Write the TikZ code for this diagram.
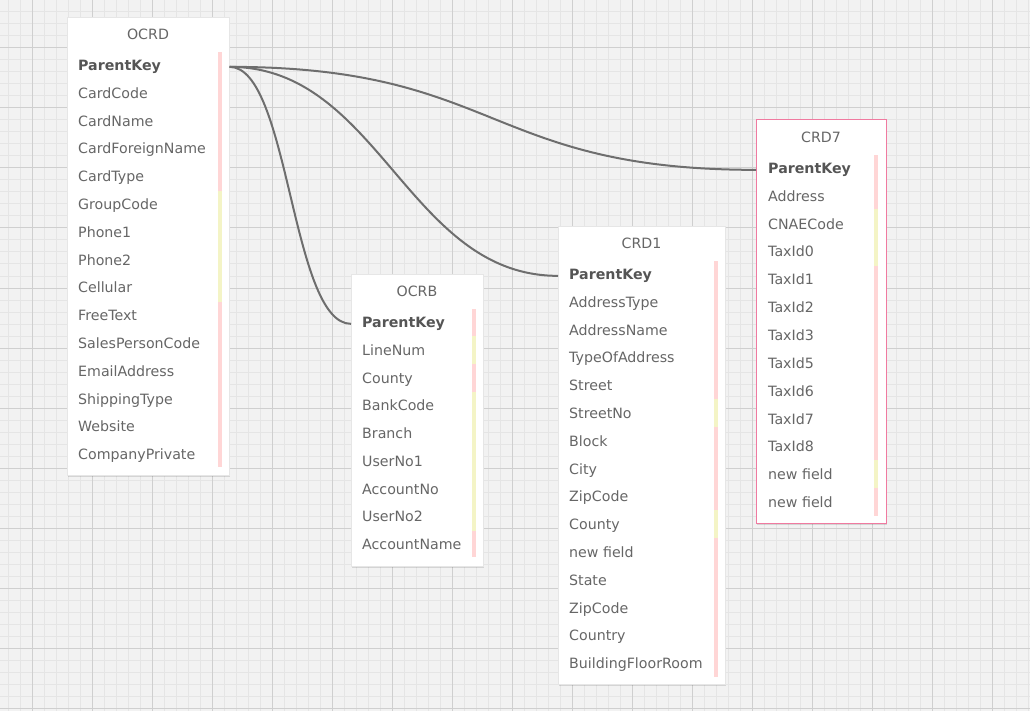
\documentclass[tikz,border=0pt]{standalone}
\usepackage{fontspec}
\setmainfont{DejaVu Sans}
\usetikzlibrary{shadows}
\definecolor{paper}{HTML}{F2F2F2}
\definecolor{gridminor}{HTML}{E5E5E5}
\definecolor{gridmajor}{HTML}{CFCFCF}
\definecolor{fieldtext}{HTML}{666666}
\definecolor{keytext}{HTML}{555555}
\definecolor{pinkbar}{HTML}{FFD6D6}
\definecolor{yellowbar}{HTML}{F4F4C6}
\definecolor{boxedge}{HTML}{E6E6E6}
\definecolor{selected}{HTML}{F07AA0}
\definecolor{link}{HTML}{6E6E6E}
\tikzset{
  tablebox/.style={draw=boxedge, line width=0.6pt, fill=white, rectangle, inner sep=0pt, anchor=north west,
    drop shadow={shadow xshift=0.8pt, shadow yshift=-1.2pt, opacity=0.12, fill=black}},
  tabletitle/.style={anchor=base, inner sep=0pt, text=fieldtext, font=\fontsize{14.2}{17}\selectfont},
  field/.style={anchor=base west, inner sep=0pt, text=fieldtext, font=\fontsize{14.2}{17}\selectfont},
  keyfield/.style={field, text=keytext, font=\fontsize{14.2}{17}\selectfont\bfseries},
  relation/.style={draw=link, line width=2pt}
}
\begin{document}
\begin{tikzpicture}[x=1pt,y=-1pt]
    \useasboundingbox (0,0) rectangle (1030,711);
    \fill[paper] (0,0) rectangle (1030,711);
    \foreach \x in {8,20,...,1028} \draw[gridminor, line width=1pt] (\x,0)--(\x,711);
    \foreach \y in {0,12,...,708} \draw[gridminor, line width=1pt] (0,\y)--(1030,\y);
    \foreach \x in {32,92,...,992} \draw[gridmajor, line width=1pt] (\x,0)--(\x,711);
    \foreach \y in {48,108,...,708} \draw[gridmajor, line width=1pt] (0,\y)--(1030,\y);

    % OCRD
    \node[tablebox, minimum width=162pt, minimum height=458pt] (ocrd) at (67,17) {};
    \node[tabletitle] (ocrdtitle) at (148,39.5) {OCRD};
    \fill[pinkbar] (218,52) rectangle (222,191);
    \fill[yellowbar] (218,191) rectangle (222,302);
    \fill[pinkbar] (218,302) rectangle (222,467);
    \node[keyfield] (ocrd0) at (78,70.5) {ParentKey};
    \node[field] (ocrd1) at (78,98.3) {CardCode};
    \node[field] (ocrd2) at (78,126.1) {CardName};
    \node[field] (ocrd3) at (78,153.9) {CardForeignName};
    \node[field] (ocrd4) at (78,181.7) {CardType};
    \node[field] (ocrd5) at (78,209.5) {GroupCode};
    \node[field] (ocrd6) at (78,237.3) {Phone1};
    \node[field] (ocrd7) at (78,265.1) {Phone2};
    \node[field] (ocrd8) at (78,292.9) {Cellular};
    \node[field] (ocrd9) at (78,320.7) {FreeText};
    \node[field] (ocrd10) at (78,348.5) {SalesPersonCode};
    \node[field] (ocrd11) at (78,376.3) {EmailAddress};
    \node[field] (ocrd12) at (78,404.1) {ShippingType};
    \node[field] (ocrd13) at (78,431.9) {Website};
    \node[field] (ocrd14) at (78,459.7) {CompanyPrivate};

    % OCRB
    \node[tablebox, minimum width=132pt, minimum height=292pt] (ocrb) at (351,274) {};
    \node[tabletitle] (ocrbtitle) at (417,296.5) {OCRB};
    \fill[pinkbar] (472,309) rectangle (476,336);
    \fill[yellowbar] (472,336) rectangle (476,364);
    \fill[pinkbar] (472,364) rectangle (476,392);
    \fill[yellowbar] (472,392) rectangle (476,531);
    \fill[pinkbar] (472,531) rectangle (476,557);
    \node[keyfield] (ocrb0) at (362,327.5) {ParentKey};
    \node[field] (ocrb1) at (362,355.25) {LineNum};
    \node[field] (ocrb2) at (362,383) {County};
    \node[field] (ocrb3) at (362,410.75) {BankCode};
    \node[field] (ocrb4) at (362,438.5) {Branch};
    \node[field] (ocrb5) at (362,466.25) {UserNo1};
    \node[field] (ocrb6) at (362,494) {AccountNo};
    \node[field] (ocrb7) at (362,521.75) {UserNo2};
    \node[field] (ocrb8) at (362,549.5) {AccountName};

    % CRD1
    \node[tablebox, minimum width=167pt, minimum height=458pt] (crd1) at (558,226) {};
    \node[tabletitle] (crd1title) at (641.5,248.5) {CRD1};
    \fill[pinkbar] (714,261) rectangle (718,399);
    \fill[yellowbar] (714,399) rectangle (718,427);
    \fill[pinkbar] (714,427) rectangle (718,510);
    \fill[yellowbar] (714,510) rectangle (718,538);
    \fill[pinkbar] (714,538) rectangle (718,677);
    \node[keyfield] (crd10) at (569,279.5) {ParentKey};
    \node[field] (crd11) at (569,307.3) {AddressType};
    \node[field] (crd12) at (569,335.1) {AddressName};
    \node[field] (crd13) at (569,362.9) {TypeOfAddress};
    \node[field] (crd14) at (569,390.7) {Street};
    \node[field] (crd15) at (569,418.5) {StreetNo};
    \node[field] (crd16) at (569,446.3) {Block};
    \node[field] (crd17) at (569,474.1) {City};
    \node[field] (crd18) at (569,501.9) {ZipCode};
    \node[field] (crd19) at (569,529.7) {County};
    \node[field] (crd110) at (569,557.5) {new field};
    \node[field] (crd111) at (569,585.3) {State};
    \node[field] (crd112) at (569,613.1) {ZipCode};
    \node[field] (crd113) at (569,640.9) {Country};
    \node[field] (crd114) at (569,668.7) {BuildingFloorRoom};

    % CRD7 (selected)
    \node[tablebox, draw=selected, line width=1pt, minimum width=130pt, minimum height=404pt] (crd7) at (756,119) {};
    \node[tabletitle] (crd7title) at (821,142.5) {CRD7};
    \fill[pinkbar] (874,155) rectangle (878,209);
    \fill[yellowbar] (874,209) rectangle (878,266);
    \fill[pinkbar] (874,266) rectangle (878,460);
    \fill[yellowbar] (874,460) rectangle (878,488);
    \fill[pinkbar] (874,488) rectangle (878,516);
    \node[keyfield] (crd70) at (768,173.5) {ParentKey};
    \node[field] (crd71) at (768,201.3) {Address};
    \node[field] (crd72) at (768,229.2) {CNAECode};
    \node[field] (crd73) at (768,257) {TaxId0};
    \node[field] (crd74) at (768,284.8) {TaxId1};
    \node[field] (crd75) at (768,312.7) {TaxId2};
    \node[field] (crd76) at (768,340.5) {TaxId3};
    \node[field] (crd77) at (768,368.3) {TaxId5};
    \node[field] (crd78) at (768,396.2) {TaxId6};
    \node[field] (crd79) at (768,424) {TaxId7};
    \node[field] (crd710) at (768,451.8) {TaxId8};
    \node[field] (crd711) at (768,479.7) {new field};
    \node[field] (crd712) at (768,507.5) {new field};

    % relations
    \draw[relation] (ocrd.east |- ocrd0.west) .. controls +(270,0) and +(-270,0) .. (crd7.west |- crd70.west);
    \draw[relation] (ocrd.east |- ocrd0.west) .. controls +(150,0) and +(-150,0) .. (crd1.west |- crd10.west);
    \draw[relation] (ocrd.east |- ocrd0.west) .. controls +(60,0) and +(-60,0) .. (ocrb.west |- ocrb0.west);
\end{tikzpicture}
\end{document}
